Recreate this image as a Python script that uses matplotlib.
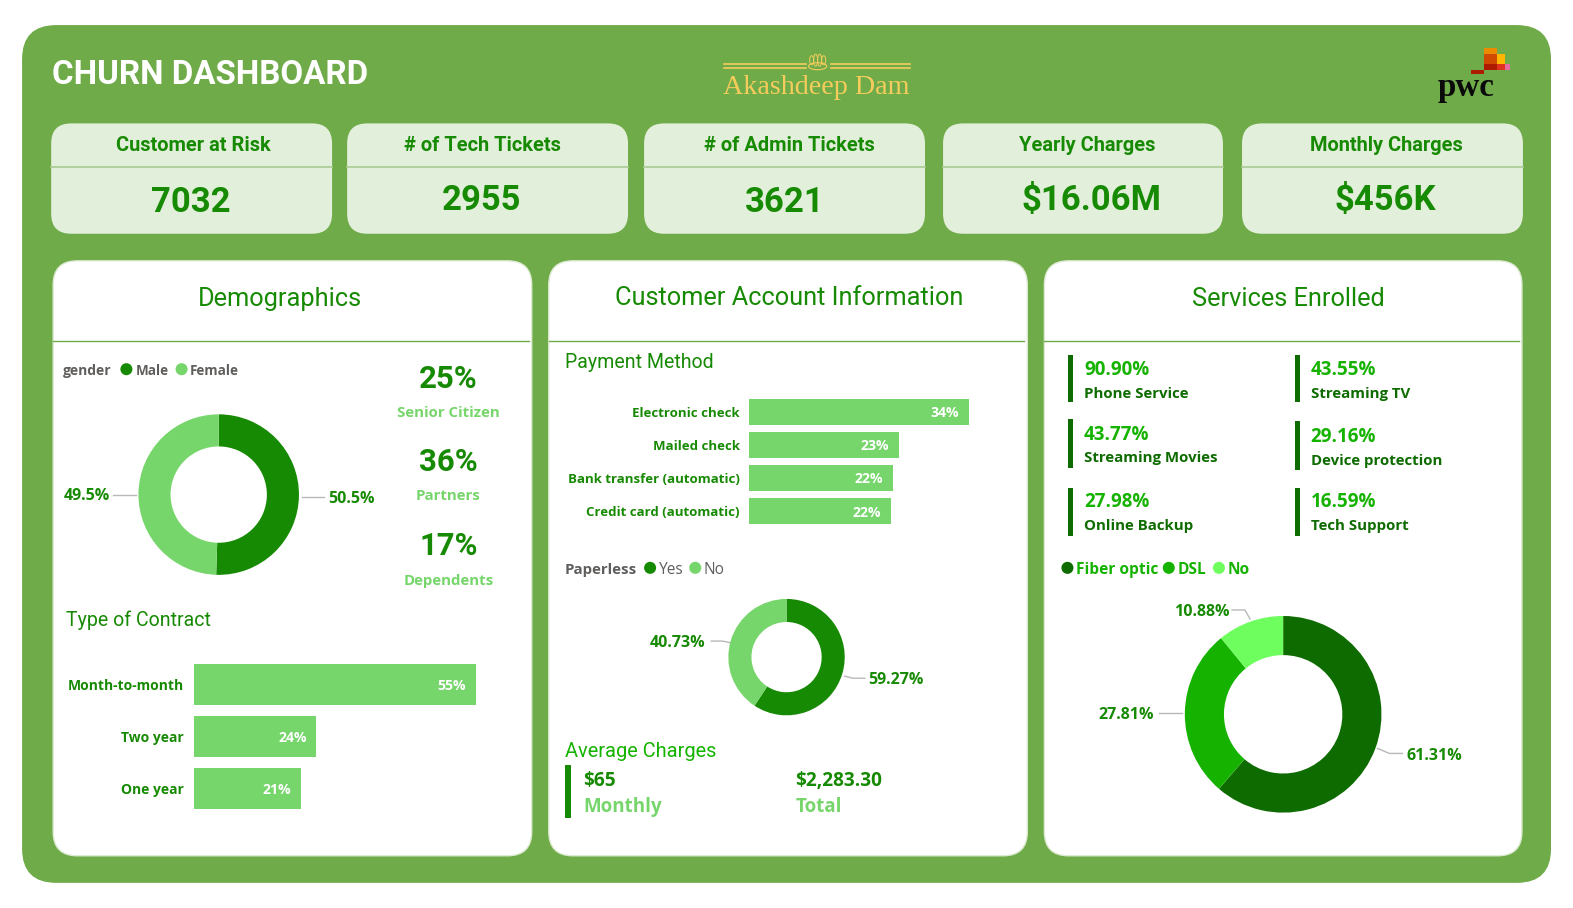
import matplotlib
matplotlib.use("Agg")
import matplotlib.pyplot as plt
from matplotlib.patches import FancyBboxPatch, Rectangle, Ellipse, Circle

W, H = 1573, 908
S = 1546 / 1541                # layout grid -> pixels
GW, GH = W / S, H / S
BG = "#70AB49"; CARD = "#E2EFDA"; DARK = "#178A04"; LIGHT = "#77D66B"
D2 = "#0E6B00"; M2 = "#15B300"; L2 = "#6EFF5F"; GREY = "#605E5C"; GOLD = "#F6CC5C"

kpi_titles = ["Customer at Risk", "# of Tech Tickets", "# of Admin Tickets", "Yearly Charges", "Monthly Charges"]
kpi_values = ["7032", "2955", "3621", "$16.06M", "$456K"]
demo_values = ["25%", "36%", "17%"]
demo_labels = ["Senior Citizen", "Partners", "Dependents"]
gender_labels = ["Male", "Female"]
gender_values = [50.5, 49.5]
contract_labels = ["Month-to-month", "Two year", "One year"]
contract_values = [55.1, 24.0, 20.9]
payment_labels = ["Electronic check", "Mailed check", "Bank transfer (automatic)", "Credit card (automatic)"]
payment_values = [33.6, 22.8, 21.9, 21.6]
paperless_labels = ["Yes", "No"]
paperless_values = [59.27, 40.73]
service_values = ["90.90%", "43.55%", "43.77%", "29.16%", "27.98%", "16.59%"]
service_labels = ["Phone Service", "Streaming TV", "Streaming Movies", "Device protection", "Online Backup", "Tech Support"]
internet_labels = ["Fiber optic", "DSL", "No"]
internet_values = [61.31, 27.81, 10.88]

DIN = "Roboto"
BODY = "Open Sans"

fig = plt.figure(figsize=(W / 100, H / 100), dpi=100, facecolor="white")
ov = fig.add_axes([0, 0, 1, 1], zorder=0)
ov.set_xlim(0, GW); ov.set_ylim(GH, 0); ov.axis("off")


def px(s):
    return s * 0.72 * S


def rbox(x0, y0, x1, y1, r, fc, ec="none", lw=0):
    ov.add_patch(FancyBboxPatch((x0 + r, y0 + r), x1 - x0 - 2 * r, y1 - y0 - 2 * r,
                                boxstyle=f"round,pad={r},rounding_size={r}", fc=fc, ec=ec, lw=lw))


def t(x, y, s, size, color, fam=BODY, weight="normal", ha="left", dy=1.5, **kw):
    ov.text(x, y + dy, s, fontsize=px(size), color=color, family=fam, weight=weight,
            ha=ha, va="center", **kw)


def axes_px(x0, y0, x1, y1, zorder=2):
    a = fig.add_axes([x0 / GW, 1 - y1 / GH, (x1 - x0) / GW, (y1 - y0) / GH], zorder=zorder)
    a.patch.set_alpha(0)
    return a


def donut(cx, cy, r, inner, values, colors):
    a = axes_px(cx - r, cy - r, cx + r, cy + r)
    a.pie(values, colors=colors, startangle=90, counterclock=False, radius=1,
          wedgeprops=dict(width=1 - inner / r, linewidth=0))
    a.set_xlim(-1, 1); a.set_ylim(-1, 1)


def hbars(x0, x1, y0, y1, xmax, labels, values, gap, lab_size):
    a = axes_px(x0, y0, x1, y1)
    ypos = list(range(len(values)))
    a.barh(ypos, values, height=1 - gap, color=LIGHT)
    a.set_xlim(0, xmax); a.set_ylim(len(values) - 0.5, -0.5)
    a.axis("off")
    for i, (l, v) in enumerate(zip(labels, values)):
        a.annotate(f"{round(v)}%", (v, i), xytext=(-7, -1), textcoords="offset points",
                   ha="right", va="center", color="white", fontsize=px(14), family=BODY, weight="bold")
        a.annotate(l, (0, i), xytext=(-7, -1), textcoords="offset points",
                   ha="right", va="center", color=DARK, fontsize=px(lab_size), family=BODY, weight="bold")


def leg_dot(x, y, c, r=6):
    ov.add_patch(Circle((x, y), r, fc=c, ec="none"))


def leader(xs, ys):
    ov.plot(xs, ys, color="#B8B8B8", lw=1, zorder=3)


# ---- background ----
rbox(22, 25, 1546, 880, 34, BG)
t(52, 73, "CHURN DASHBOARD", 33, "white", DIN, "bold")

# logo centre
for y in (64, 68):
    ov.plot([722, 803], [y, y], color=GOLD, lw=1.2)
    ov.plot([828, 907], [y, y], color=GOLD, lw=1.2)
ov.add_patch(Ellipse((815, 66), 18, 7, fc="none", ec=GOLD, lw=0.8))
for dx, h in ((-6, 9), (-2, 12), (2, 12), (6, 9)):
    ov.add_patch(Ellipse((815 + dx, 60), 4, h, fc="none", ec=GOLD, lw=0.7))
t(814, 86, "Akashdeep Dam", 28, GOLD, "Liberation Serif", ha="center")

# logo right
for (x, y, w, h, c) in [(1466, 70, 13, 3.5, "#AD1B02"), (1479, 48, 13, 6, "#EB8C00"),
                        (1479, 54, 13, 10, "#D04A02"), (1479, 64, 13, 6, "#AD1B02"),
                        (1492, 54, 8, 10, "#FFB600"),
                        (1492, 64, 8, 6, "#E0301E"), (1500, 64, 5, 6, "#E669A2")]:
    ov.add_patch(Rectangle((x, y), w, h, fc=c, ec="none"))
t(1433, 86, "pwc", 33, "#0A0A0A", "Liberation Serif", "bold")

# ---- KPI cards ----
kx = [(51, 331), (346, 626), (642, 922), (940, 1219), (1238, 1518)]
ktx = [193, 481, 787, 1084, 1382]
kvx = [190, 480, 782, 1088, 1381]
kvy = [200, 198, 200, 198, 198]
for (a0, a1), title, val, tx, vx, vy in zip(kx, kpi_titles, kpi_values, ktx, kvx, kvy):
    rbox(a0, 123, a1, 233, 20, CARD)
    ov.plot([a0, a1], [166, 166], color="#A9CC94", lw=1.2)
    t(tx, 144, title, 20, DARK, DIN, "bold", ha="center")
    t(vx, vy, val, 34.5, DARK, DIN, "bold", ha="center")

# ---- panels ----
for x0, x1, title, tx, ty in [(53, 530, "Demographics", 279, 297),
                              (547, 1024, "Customer Account Information", 787, 296),
                              (1041, 1517, "Services Enrolled", 1284, 297)]:
    rbox(x0, 260, x1, 853, 24, "white", ec="#DDEBD3", lw=1)
    ov.plot([x0, x1 - 3], [340, 340], color=BG, lw=1)
    t(tx, ty, title, 25.3, DARK, DIN, ha="center")

# ---- Demographics ----
t(63, 368, "gender", 13.8, GREY, BODY, "bold")
leg_dot(126, 368, DARK); t(135, 368, gender_labels[0], 13.5, GREY, BODY, "bold")
leg_dot(181, 368, LIGHT); t(189, 368, gender_labels[1], 13.5, GREY, BODY, "bold")
donut(218, 493, 80, 48, gender_values, [DARK, LIGHT])
leader([113, 136], [493, 493]); leader([301, 323], [495, 495])
t(64, 493, f"{gender_values[1]}%", 16, DARK, BODY, "bold")
t(327, 496, f"{gender_values[0]}%", 16, DARK, BODY, "bold")
for v, l, yv, yl in zip(demo_values, demo_labels, [376, 459, 543], [410, 493, 578]):
    t(447, yv, v, 31, DARK, DIN, "bold", ha="center")
    t(447, yl, l, 15, LIGHT, BODY, "bold", ha="center")
t(66, 617, "Type of Contract", 19.5, DARK, DIN)
hbars(193, 474, 656, 812, 55.1, contract_labels, contract_values, 0.22, 13.8)

# ---- Customer account ----
t(563, 360, "Payment Method", 19.5, DARK, DIN)
hbars(747, 966, 394, 526, 33.6, payment_labels, payment_values, 0.2, 13.2)
t(563, 567, "Paperless", 15, GREY, BODY, "bold")
leg_dot(648, 566, DARK); t(657, 567, paperless_labels[0], 15.5, GREY, BODY)
leg_dot(693, 566, LIGHT); t(701, 567, paperless_labels[1], 15.5, GREY, BODY)
donut(784, 655, 58, 35, paperless_values, [DARK, LIGHT])
leader([709, 720, 730], [639, 639, 641]); leader([842, 850, 862], [674, 676, 676])
t(648, 639, f"{paperless_values[1]:.2f}%", 16, DARK, BODY, "bold")
t(865, 676, f"{paperless_values[0]:.2f}%", 16, DARK, BODY, "bold")
t(563, 748, "Average Charges", 20, M2, DIN)
ov.add_patch(Rectangle((563, 763), 6, 52, fc=DARK, ec="none"))
t(581, 777, "$65", 19, DARK, BODY, "bold")
t(581, 803, "Monthly", 18.7, LIGHT, BODY, "bold")
t(793, 777, "$2,283.30", 19, DARK, BODY, "bold")
t(793, 803, "Total", 18.7, LIGHT, BODY, "bold")

# ---- Services ----
sx = [1065, 1291] * 3
bar_y = [(354, 401), (354, 401), (418, 466), (420, 468), (486, 534), (486, 534)]
vy = [367, 367, 432, 434, 499, 499]
ly = [391, 391, 455, 458, 523, 523]
for x, (b0, b1), a, b, v, l in zip(sx, bar_y, vy, ly, service_values, service_labels):
    ov.add_patch(Rectangle((x, b0), 5, b1 - b0, fc=D2, ec="none"))
    t(x + 15.5, a, v, 18.7, M2, BODY, "bold")
    t(x + 15.5, b, l, 15, D2, BODY, "bold")
leg_dot(1064, 566, D2); t(1073, 567, internet_labels[0], 15.5, M2, BODY, "bold")
leg_dot(1165, 566, M2); t(1174, 567, internet_labels[1], 15.5, M2, BODY, "bold")
leg_dot(1215, 566, L2); t(1224, 567, internet_labels[2], 15.5, M2, BODY, "bold")
donut(1279, 712, 98, 59, internet_values, [D2, M2, L2])
leader([1228, 1241, 1246], [608, 608, 617]); leader([1155, 1178], [711, 711])
leader([1373, 1385, 1398], [746, 751, 751])
t(1170, 609, f"{internet_values[2]:.2f}%", 16, DARK, BODY, "bold")
t(1095, 711, f"{internet_values[1]:.2f}%", 16, DARK, BODY, "bold")
t(1402, 752, f"{internet_values[0]:.2f}%", 16, DARK, BODY, "bold")

fig.savefig("out.png", dpi=100, facecolor="white")
